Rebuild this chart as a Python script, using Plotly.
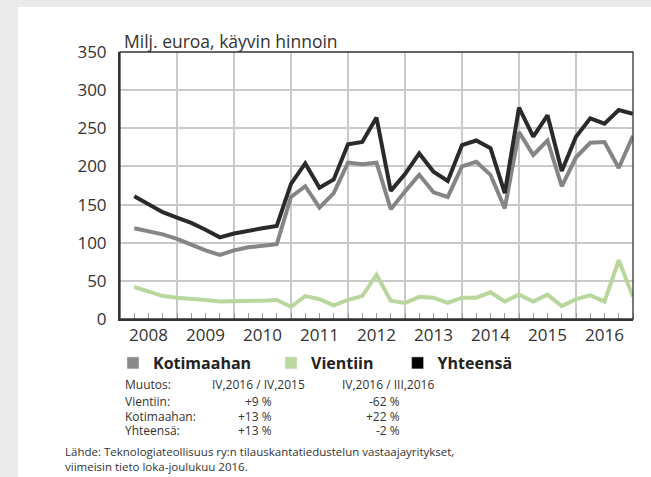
import plotly.graph_objects as go

# ---------------- data ----------------
years = ["2008", "2009", "2010", "2011", "2012", "2013", "2014", "2015", "2016"]
quarters = [f"{y} Q{q}" for y in years for q in (1, 2, 3, 4)]

kotimaahan = [119, 115, 111, 105, 97, 90, 84, 90, 94, 96, 98, 160,
              174, 146, 165, 205, 203, 205, 144, 167, 189, 166, 160, 200,
              206, 189, 145, 245, 215, 234, 174, 212, 231, 232, 198, 240]
vientiin = [42, 36, 30, 28, 27, 25, 23, 23, 23, 24, 25, 16,
            30, 26, 18, 25, 30, 58, 24, 21, 29, 28, 21, 28,
            28, 35, 23, 32, 23, 32, 17, 26, 31, 23, 77, 29]
yhteensa = [161, 150, 140, 133, 126, 117, 107, 112, 116, 119, 122, 177,
            204, 172, 183, 229, 232, 264, 168, 190, 217, 193, 181, 228,
            234, 224, 165, 277, 239, 267, 194, 239, 263, 256, 274, 269]

series_names = ["Kotimaahan", "Vientiin", "Yhteensä"]
series_colors = ["#858585", "#b9d79c", "#2a2a2a"]
legend_colors = ["#8a8a8a", "#bdd9a1", "#000000"]

title_text = "Milj. euroa, käyvin hinnoin"
change_header = ["Muutos:", "IV,2016 / IV,2015", "IV,2016 / III,2016"]
change_labels = ["Vientiin:", "Kotimaahan:", "Yhteensä:"]
change_yoy = ["+9 %", "+13 %", "+13 %"]
change_qoq = ["-62 %", "+22 %", "-2 %"]
source_text = ("Lähde: Teknologiateollisuus ry:n tilauskantatiedustelun vastaajayritykset,"
               "<br>viimeisin tieto loka-joulukuu 2016.")

# ---------------- layout geometry ----------------
W, H = 651, 477
L, R, T, B = 120, 18, 52, 158
PW, PH = W - L - R, H - T - B


def px_x(px):
    return (px - L) / PW


def px_y(py):
    return (H - B - py) / PH


x = list(range(len(quarters)))
grid_pos = [4 * i - 1 for i in range(len(years) + 1)]
year_pos = [4 * i + 1 for i in range(len(years))]

FONT = "Open Sans"
TXT = "#333333"

fig = go.Figure()

axes_for = ["x", "x", "x2"]
for name, vals, col, xa in zip(series_names, [kotimaahan, vientiin, yhteensa],
                               series_colors, axes_for):
    fig.add_trace(go.Scatter(x=x, y=vals, mode="lines", name=name, xaxis=xa,
                             line=dict(color=col, width=4), showlegend=False,
                             hoverinfo="skip"))

legend_widths = [113, 81.6, 80]
for name, col, lw in zip(series_names, legend_colors, legend_widths):
    fig.add_trace(go.Bar(x=[None], y=[None], name=name, marker_color=col,
                         showlegend=True, legendwidth=lw))

fig.update_layout(
    width=W, height=H,
    margin=dict(l=L, r=R, t=T, b=B, pad=0),
    paper_bgcolor="#ebebeb",
    plot_bgcolor="white",
    font=dict(family=FONT, color=TXT),
    showlegend=True,
    legend=dict(orientation="h", x=px_x(113), y=px_y(363), xanchor="left",
                yanchor="middle", font=dict(family=FONT, size=16, color="#222",
                                            weight="bold"),
                bgcolor="rgba(0,0,0,0)", traceorder="normal"),
    xaxis=dict(range=[-1, 35], tickmode="array", tickvals=grid_pos,
               showticklabels=False, showgrid=True, gridcolor="#c9c9c9",
               gridwidth=2, showline=True, linecolor="#333", linewidth=2,
               zeroline=False, ticks="",
               minor=dict(tickmode="array", tickvals=x, ticks="inside",
                          ticklen=6, tickwidth=1, tickcolor="#9a9a9a",
                          showgrid=False)),
    xaxis2=dict(range=[-1, 35], overlaying="x", anchor="y", side="bottom",
                tickmode="array", tickvals=year_pos, ticktext=years,
                showgrid=False, showline=False, zeroline=False, ticks="",
                tickfont=dict(family=FONT, size=17, color=TXT),
                ticklabelstandoff=4),
    yaxis=dict(range=[0, 350], tickmode="linear", tick0=0, dtick=50,
               showgrid=True, gridcolor="#c9c9c9", gridwidth=1.5,
               showline=True, linecolor="#333", linewidth=2, zeroline=False,
               ticks="", tickfont=dict(family=FONT, size=17, color=TXT),
               ticklabelstandoff=8),
)

shapes = [
    dict(type="rect", xref="paper", yref="paper",
         x0=px_x(18), x1=px_x(W + 5), y0=px_y(H + 5), y1=px_y(7),
         fillcolor="white", line=dict(width=0), layer="below"),
    dict(type="rect", xref="paper", yref="paper", x0=0, x1=1, y0=0, y1=1,
         line=dict(color="#333", width=1.3), fillcolor="rgba(0,0,0,0)",
         layer="above"),
]
fig.update_layout(shapes=shapes)

ann = []
ann.append(dict(text=title_text, xref="paper", yref="paper", x=px_x(122),
                y=px_y(41), xanchor="left", yanchor="middle", showarrow=False,
                font=dict(family=FONT, size=17.5, color=TXT)))

row_y = [383.7, 400.8, 415.8, 430.3]
TF = dict(family=FONT, size=12, color=TXT)
ann.append(dict(text=change_header[0], x=px_x(123), y=px_y(row_y[0]), xanchor="left"))
ann.append(dict(text=change_header[1], x=px_x(210), y=px_y(row_y[0]), xanchor="left"))
ann.append(dict(text=change_header[2], x=px_x(340), y=px_y(row_y[0]), xanchor="left"))
for i, (lab, a, b) in enumerate(zip(change_labels, change_yoy, change_qoq)):
    yy = px_y(row_y[i + 1])
    ann.append(dict(text=lab, x=px_x(123), y=yy, xanchor="left"))
    ann.append(dict(text=a, x=px_x(273.5), y=yy, xanchor="right"))
    ann.append(dict(text=b, x=px_x(402), y=yy, xanchor="right"))
for a in ann[1:]:
    a.update(xref="paper", yref="paper", yanchor="middle", showarrow=False,
             font=TF, height=14)

ann.append(dict(text=source_text, xref="paper", yref="paper", x=px_x(63),
                y=px_y(459.5), xanchor="left", yanchor="middle", align="left",
                showarrow=False, font=dict(family=FONT, size=11.5, color=TXT)))
fig.update_layout(annotations=ann)

fig.write_html("out.html",
               config={"displayModeBar": False},
               post_script="document.body.style.margin='0px';"
                           "document.body.style.padding='0px';"
                           "document.body.style.background='#ebebeb';")
